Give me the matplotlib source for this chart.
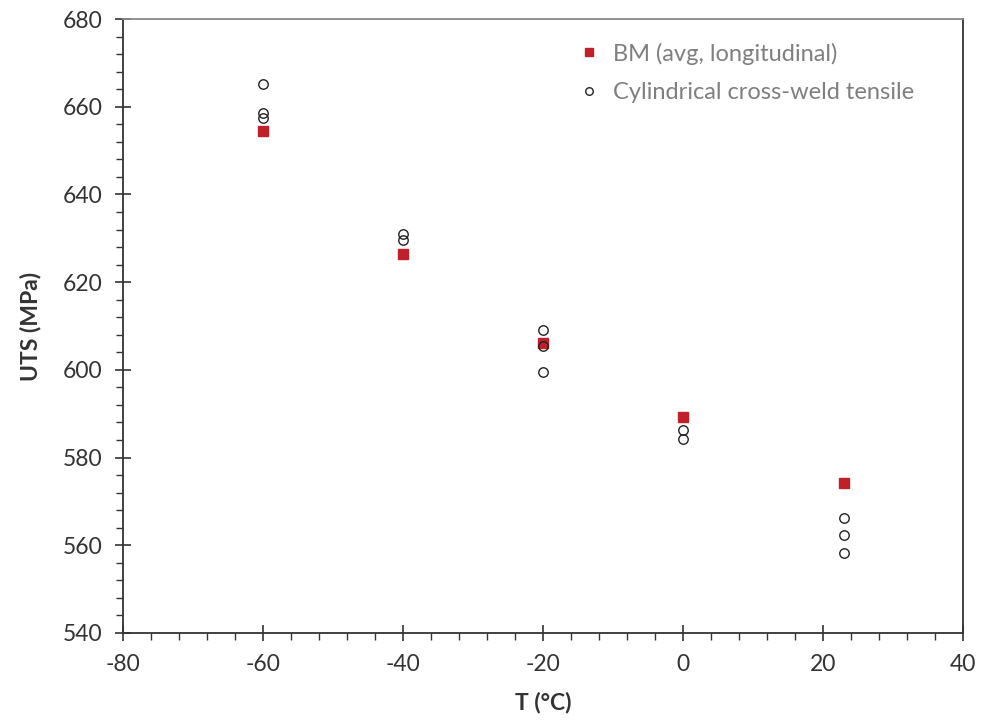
import matplotlib.pyplot as plt
from matplotlib.ticker import MultipleLocator

# base metal average (longitudinal)
bm_temp = [-60, -40, -20, 0, 23]
bm_uts = [654.5, 626.4, 606.2, 589.3, 574.1]

# cylindrical cross-weld tensile tests
cw_temp = [-60, -60, -60, -40, -40, -20, -20, -20, 0, 0, 23, 23, 23]
cw_uts = [665.2, 658.5, 657.5, 631.0, 629.6, 609.2, 605.4, 599.6,
          586.3, 584.2, 566.3, 562.3, 558.3]

plt.rcParams["font.family"] = ["Lato", "DejaVu Sans"]
plt.rcParams["axes.unicode_minus"] = False

fig = plt.figure(figsize=(9.84, 7.23), dpi=100)
ax = fig.add_axes([0.125, 0.1245, 0.8537, 0.8492])

ax.plot(bm_temp, bm_uts, ls="none", marker="s", ms=7.2, color="#c0202a",
        label="BM (avg, longitudinal)", zorder=3)
ax.plot(cw_temp, cw_uts, ls="none", marker="o", ms=6.8, mfc="none",
        mec="#222222", mew=1.0, label="Cylindrical cross-weld tensile", zorder=4)

ax.set_xlim(-80, 40)
ax.set_ylim(540, 680)
ax.xaxis.set_major_locator(MultipleLocator(20))
ax.xaxis.set_minor_locator(MultipleLocator(4))
ax.yaxis.set_major_locator(MultipleLocator(20))
ax.yaxis.set_minor_locator(MultipleLocator(4))

ax.tick_params(which="major", direction="inout", length=12, width=1.2,
               color="#333333", labelsize=16.5, labelcolor="#333333", pad=9)
ax.tick_params(which="minor", direction="out", length=5, width=1.0,
               color="#333333")

for side in ["left", "bottom", "right"]:
    ax.spines[side].set_color("#333333")
    ax.spines[side].set_linewidth(1.3)
ax.spines["top"].set_color("#888888")
ax.spines["top"].set_linewidth(1.3)

ax.set_xlabel("T (°C)", fontsize=16.5, fontweight="bold", color="#333333", labelpad=12)
ax.set_ylabel("UTS (MPa)", fontsize=16.5, fontweight="bold", color="#333333", labelpad=15)

leg = ax.legend(loc="upper left", bbox_to_anchor=(0.535, 0.977), frameon=False,
                fontsize=17, handlelength=0.6, handletextpad=0.7,
                labelspacing=0.75, borderaxespad=0.0, markerscale=0.8)
for t in leg.get_texts():
    t.set_color("#7f7f7f")

fig.savefig("out.png", dpi=100)
